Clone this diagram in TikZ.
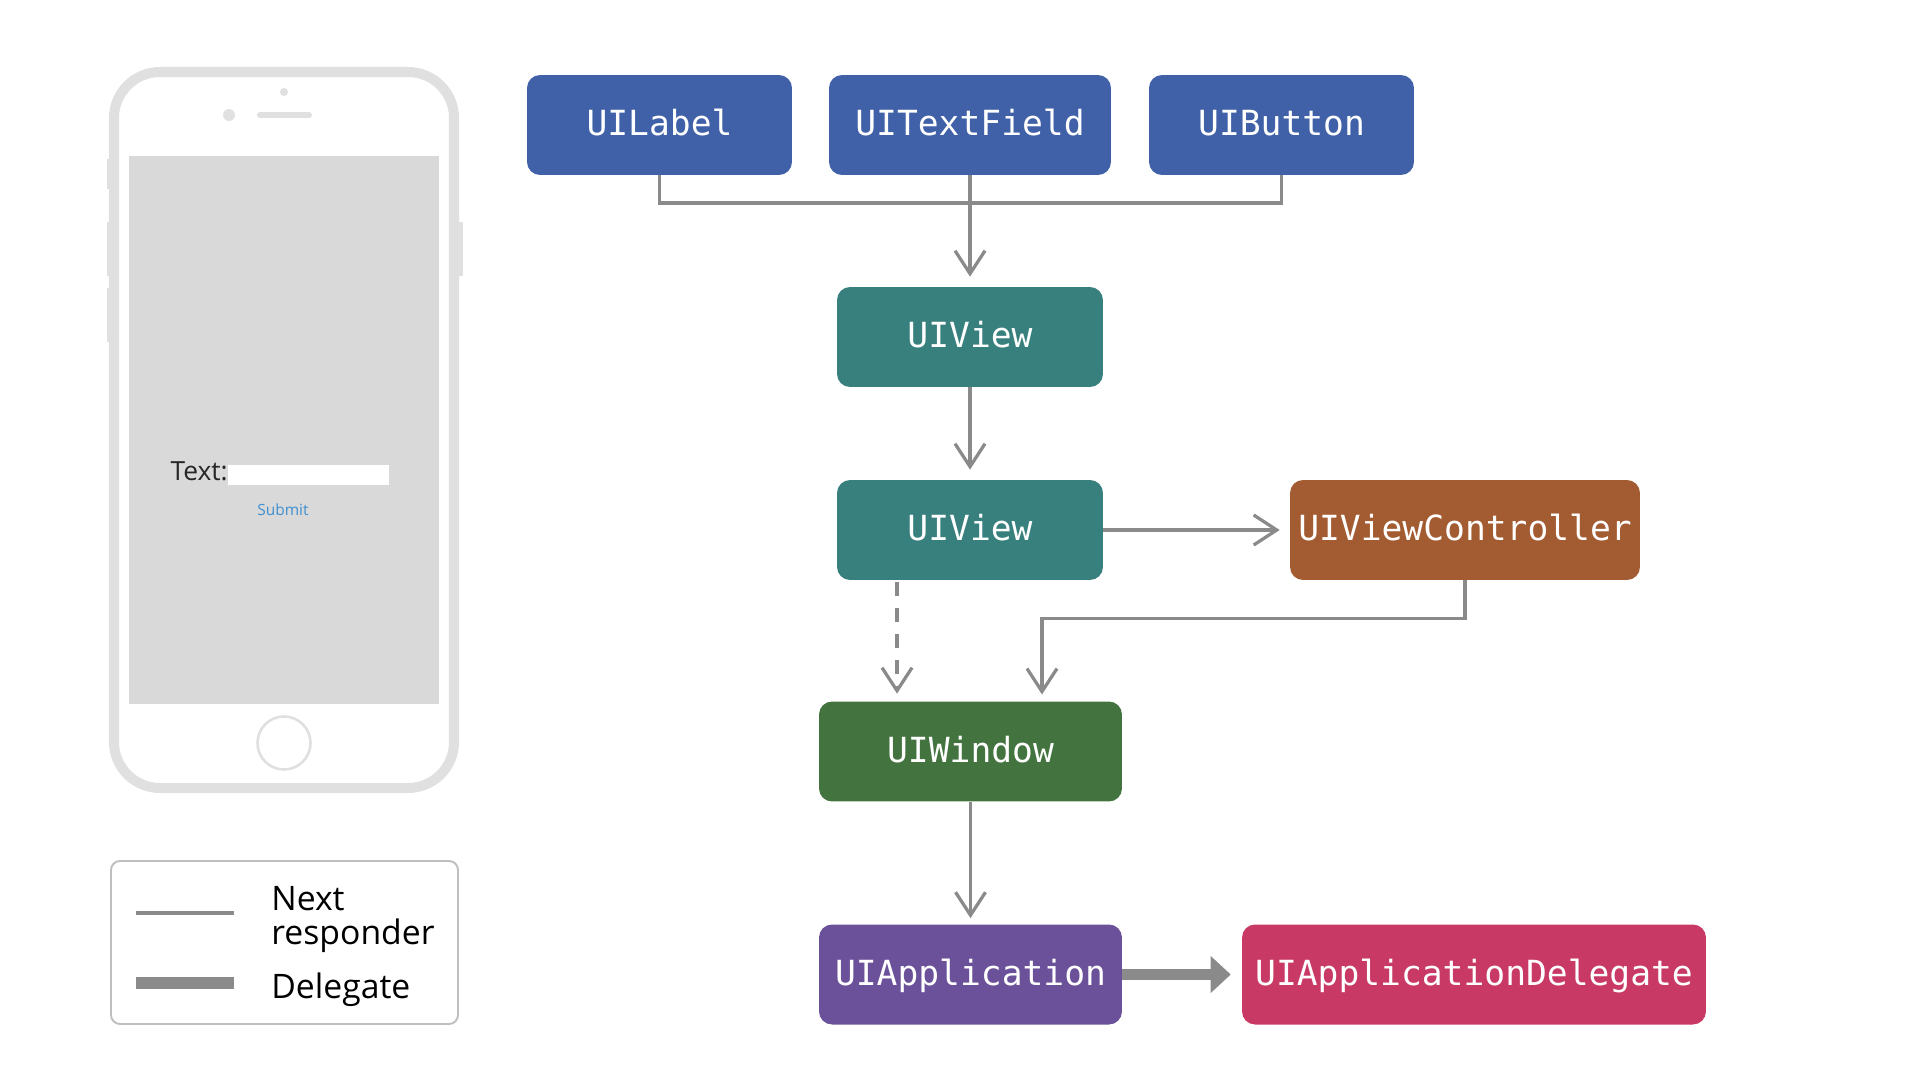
\documentclass[tikz,border=0pt]{standalone}
\usepackage{fontspec}
\setmainfont{Open Sans}
\setmonofont{DejaVu Sans Mono}
\usetikzlibrary{arrows.meta}

\definecolor{frameGray}{HTML}{E0E0E0}
\definecolor{screenGray}{HTML}{D9D9D9}
\definecolor{linkGray}{HTML}{8A8A8A}
\definecolor{submitBlue}{HTML}{3F8FD0}
\definecolor{controlBlue}{HTML}{4061A8}
\definecolor{viewTeal}{HTML}{38807E}
\definecolor{controllerBrown}{HTML}{A35B31}
\definecolor{windowGreen}{HTML}{43743F}
\definecolor{appPurple}{HTML}{6A5199}
\definecolor{delegatePink}{HTML}{C83965}

\tikzset{
  classbox/.style={rectangle,rounded corners=0.26cm,inner sep=0pt,minimum height=2cm,
    text=white,font=\ttfamily\fontsize{19.7}{22}\selectfont,text height=0.46cm,text depth=0.04cm},
  nextlink/.style={draw=linkGray,line width=1.85pt,-{Straight Barb[length=0.46cm,width=0.6cm,line width=1.85pt]},shorten >=0.2cm},
  branchlink/.style={draw=linkGray,line width=1.85pt},
  delegatelink/.style={draw=linkGray,line width=6.8pt,-{Triangle[length=0.4cm,width=0.74cm,line width=0pt]},shorten >=0.22cm},
  legendtext/.style={anchor=base west,inner sep=0pt,font=\fontsize{19.2}{19.3}\selectfont,align=left}
}

\begin{document}
\begin{tikzpicture}[x=0.02cm,y=-0.02cm]
        \useasboundingbox (0,0) rectangle (1916,1078);

        % phone
        \begin{scope}[frameGray]
          \fill (107,159) rectangle (112,189);
          \fill (107,222) rectangle (112,276);
          \fill (107,288) rectangle (112,342);
          \fill (456,222) rectangle (463,276);
          \draw[line width=5.7pt,rounded corners=0.92cm] (114,72) rectangle (454,788);
          \fill (284,92) circle (4);
          \fill (229,115) circle (6);
          \draw[line width=3.4pt,line cap=round] (260,115) -- (309,115);
          \draw[line width=1.5pt] (284,743) circle (26.5);
        \end{scope}
        \fill[screenGray] (129,156) rectangle (439,704);
        \fill[white] (228,465) rectangle (389,485);
        \node[anchor=base east,inner sep=0pt,font=\fontsize{15}{16}\selectfont,text=black!85] (textlabel) at (228,480) {Text:};
        \node[anchor=base,inner sep=0pt,font=\fontsize{8.8}{11}\selectfont,text=submitBlue] (submit) at (283,515) {Submit};

        % legend
        \draw[draw=black!25,line width=1.1pt,rounded corners=0.18cm] (111,861) rectangle (458,1024);
        \coordinate (nextstart) at (136,913);
        \coordinate (nextend) at (234,913);
        \coordinate (delegatestart) at (136,983);
        \coordinate (delegateend) at (234,983);
        \draw[branchlink] (nextstart) -- (nextend);
        \draw[draw=linkGray,line width=6.4pt] (delegatestart) -- (delegateend);
        \node[legendtext] (nextlabel) at (271,944) {Next\\responder};
        \node[legendtext] (delegatelabel) at (271,998) {Delegate};

        % classes
        \begin{scope}[every node/.style={classbox}]
          \node[fill=controlBlue,minimum width=5.3cm] (label) at (659.5,125) {UILabel};
          \node[fill=controlBlue,minimum width=5.64cm] (textfield) at (970,125) {UITextField};
          \node[fill=controlBlue,minimum width=5.3cm] (button) at (1281.5,125) {UIButton};
          \node[fill=viewTeal,minimum width=5.32cm] (view1) at (970,337) {UIView};
          \node[fill=viewTeal,minimum width=5.32cm] (view2) at (970,530) {UIView};
          \node[fill=controllerBrown,minimum width=7cm] (controller) at (1465,530) {UIViewController};
          \node[fill=windowGreen,minimum width=6.06cm] (window) at (970.5,751.5) {UIWindow};
          \node[fill=appPurple,minimum width=6.06cm] (application) at (970.5,974.5) {UIApplication};
          \node[fill=delegatePink,minimum width=9.28cm] (delegate) at (1474,974.5) {UIApplicationDelegate};
        \end{scope}

        \coordinate (branch) at (970,203);
        \coordinate (dashstart) at (897,582);

        \begin{scope}[every path/.style={branchlink}]
          \path (label.south) |- (branch);
          \path (button.south) |- (branch);
        \end{scope}

        \path[nextlink] (textfield.south) -- (view1.north);
        \path[nextlink] (view1.south) -- (view2.north);
        \path[nextlink] (view2.east) -- (controller.west);
        \path[nextlink,shorten >=0.15cm,dash pattern=on 0.28cm off 0.24cm] (dashstart) -- (dashstart |- window.north);
        \path[nextlink,shorten >=0.15cm] (controller.south) -- ++(0,38) -| (1042,702);
        \path[nextlink,shorten >=0.12cm] (window.south) -- (application.north);
        \path[delegatelink] (application.east) -- (delegate.west);

\end{tikzpicture}
\end{document}
